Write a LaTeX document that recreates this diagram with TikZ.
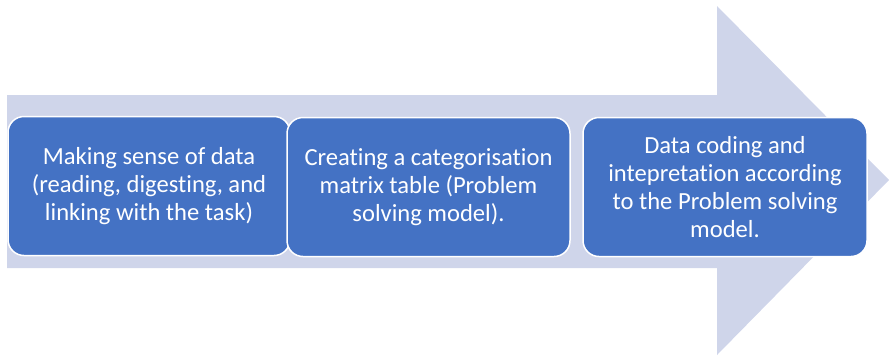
\documentclass[tikz,border=0pt]{standalone}
\usepackage{fontspec}
\setmainfont[Ligatures={NoCommon,NoRare}]{Carlito}
\definecolor{arrowfill}{HTML}{CFD5EA}
\definecolor{boxfill}{HTML}{4472C4}
\begin{document}
\begin{tikzpicture}[x=1pt,y=-1pt,
  stepbox/.style={draw=white, line width=1.5pt, fill=boxfill, rounded corners=16pt,
    text=white, align=center, font=\fontsize{24.6}{27.8}\selectfont, inner sep=0pt},
]
\useasboundingbox (0,0) rectangle (889,357);
\fill[arrowfill] (7,95) -- (717,95) -- (717,6) -- (889,180) -- (717,355) -- (717,268) -- (7,268) -- cycle;
\node[stepbox, minimum width=282pt, minimum height=139pt] (b1) at (149,186)
  {Making sense of data\\(reading, digesting, and\\linking with the task)};
\node[stepbox, minimum width=283pt, minimum height=139pt] (b2) at (428.5,187)
  {Creating a categorisation\\matrix table (Problem\\solving model).};
\node[stepbox, minimum width=284pt, minimum height=139pt] (b3) at (725,187)
  {Data coding and\\intepretation according\\to the Problem solving\\model.};
\end{tikzpicture}
\end{document}
